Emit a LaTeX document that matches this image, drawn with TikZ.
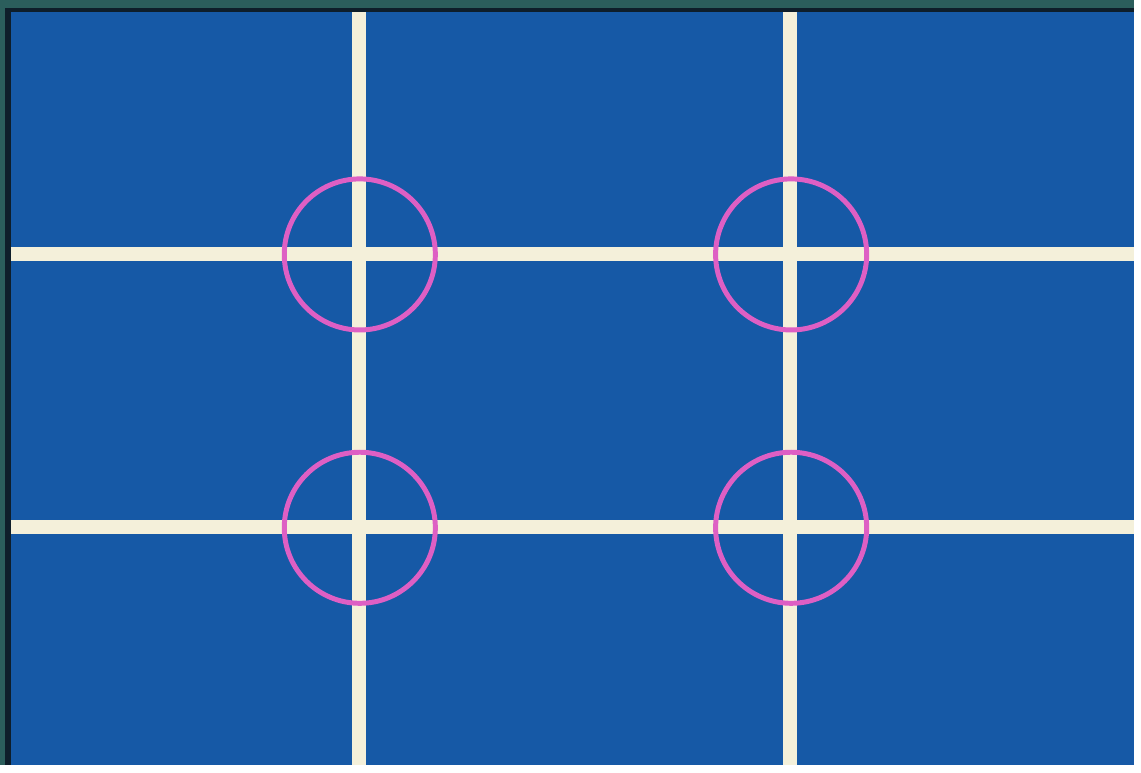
\documentclass[tikz,border=0pt]{standalone}
\usepackage{xcolor}
\usepackage{tikz}

\definecolor{frameteal}{HTML}{2B5E5C}
\definecolor{edgedark}{HTML}{0E1E2A}
\definecolor{fieldblue}{HTML}{1659A6}
\definecolor{gridcream}{HTML}{F4F0DA}
\definecolor{ringpink}{HTML}{DE5FC4}

\begin{document}
\begin{tikzpicture}[
    x=1pt, y=-1pt,
    gridline/.style={draw=gridcream, line width=14pt},
    ring/.style={draw=ringpink, line width=5pt}
  ]
    % frame and field
    \fill[frameteal] (0,0) rectangle (1141,770);
    \fill[edgedark] (5,8) rectangle (1141,770);
    \fill[fieldblue] (11,12) rectangle (1141,770);

    % thirds lines
    \foreach \gx in {361,795}
      \draw[gridline] (\gx,12) -- (\gx,770);
    \foreach \gy in {256,530}
      \draw[gridline] (11,\gy) -- (1141,\gy);

    % rings at the crossings
    \foreach \gx in {362,796}
      \foreach \gy in {256,531}
        \draw[ring] (\gx,\gy) circle[radius=76];
  \end{tikzpicture}
\end{document}
